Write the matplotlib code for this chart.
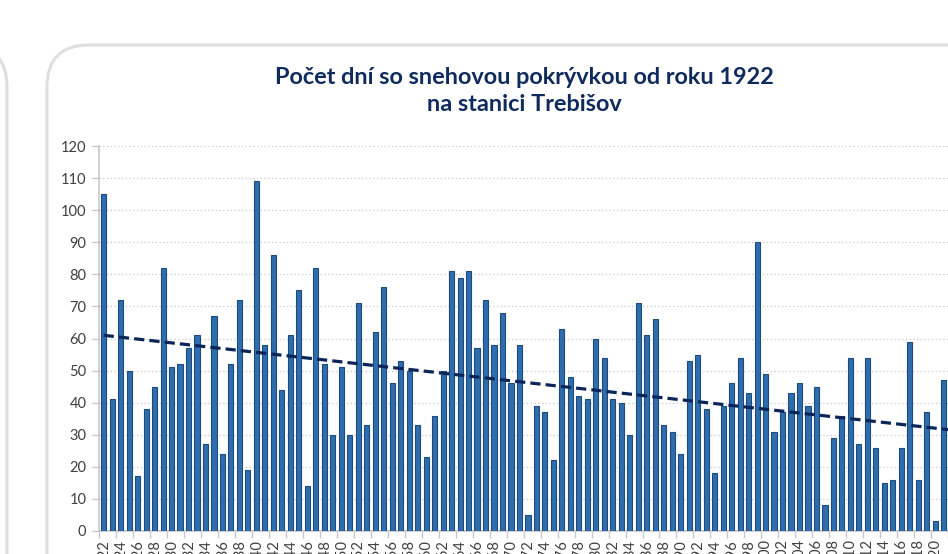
import matplotlib
matplotlib.use("Agg")
import matplotlib.pyplot as plt
from matplotlib.patches import FancyBboxPatch
import numpy as np

# data
years = list(range(1922, 2022))
days = [105, 41, 72, 50, 17, 38, 45, 82, 51, 52,
        57, 61, 27, 67, 24, 52, 72, 19, 109, 58,
        86, 44, 61, 75, 14, 82, 52, 30, 51, 30,
        71, 33, 62, 76, 46, 53, 50, 33, 23, 36,
        50, 81, 79, 81, 57, 72, 58, 68, 46, 58,
        5, 39, 37, 22, 63, 48, 42, 41, 60, 54,
        41, 40, 30, 71, 61, 66, 33, 31, 24, 53,
        55, 38, 18, 39, 46, 54, 43, 90, 49, 31,
        37, 43, 46, 39, 45, 8, 29, 36, 54, 27,
        54, 26, 15, 16, 26, 59, 16, 37, 3, 47]

# linear trend as shown in the chart (value at 1922 and at the right edge)
trend_vals = [61.0, 31.6]

title = "Počet dní so snehovou pokrývkou od roku 1922\nna stanici Trebišov"

W, H = 948, 554
fig = plt.figure(figsize=(W / 100, H / 100), dpi=100)
fig.patch.set_facecolor("white")

# rounded panel outlines (in inches)
panel = FancyBboxPatch((0.47, -1.0), 10.0, 5.09 + 1.0,
                       boxstyle="round,pad=0,rounding_size=0.42",
                       transform=fig.dpi_scale_trans, facecolor="white",
                       edgecolor="#DEDEDE", linewidth=2.2, zorder=0)
fig.add_artist(panel)
left_panel = FancyBboxPatch((-5.0, -1.0), 5.07, 5.09 + 1.0,
                            boxstyle="round,pad=0,rounding_size=0.42",
                            transform=fig.dpi_scale_trans, facecolor="white",
                            edgecolor="#DEDEDE", linewidth=2.2, zorder=0)
fig.add_artist(left_panel)

ax = fig.add_axes([99 / W, 23 / H, (W - 99) / W, (531 - 146) / H])
ax.set_facecolor("none")

x = np.arange(len(years))
ax.bar(x, days, width=0.6, color="#2E6EAE", edgecolor="#1F4B7C",
       linewidth=0.8, zorder=3)

ax.plot([x[0], x[-1] + 0.5], trend_vals, color="#0B2559",
        linestyle=(0, (3.2, 1.6)), linewidth=2.3, zorder=4)

ax.set_xlim(-0.55, 99.5)
ax.set_ylim(0, 120)
ax.set_yticks(range(0, 121, 10))
ax.yaxis.grid(True, color="#C8C8C8", linestyle=(0, (1, 2)), linewidth=0.9)
ax.set_axisbelow(True)

ax.set_xticks(x[::2])
ax.set_xticklabels([str(y) for y in years[::2]], rotation=90)
ax.set_xticks(np.arange(-0.5, len(years), 2), minor=True)
ax.tick_params(axis="x", which="major", length=0, pad=6)
ax.tick_params(axis="x", which="minor", length=5, color="#C8C8C8", width=1)
ax.tick_params(axis="y", length=5, color="#C8C8C8", width=1, pad=4)

for lab in ax.get_xticklabels() + ax.get_yticklabels():
    lab.set_family("Lato")
    lab.set_fontsize(10.5)
    lab.set_color("#404040")

for s in ["top", "right"]:
    ax.spines[s].set_visible(False)
for s in ["left", "bottom"]:
    ax.spines[s].set_color("#C8C8C8")
    ax.spines[s].set_linewidth(1.2)

fig.text(524 / W, 1 - 91 / H, title, ha="center", va="center",
         fontfamily="Lato", fontweight="bold", fontsize=16.9,
         color="#0F2B5E", linespacing=1.3)

fig.savefig("out.png", dpi=100)
